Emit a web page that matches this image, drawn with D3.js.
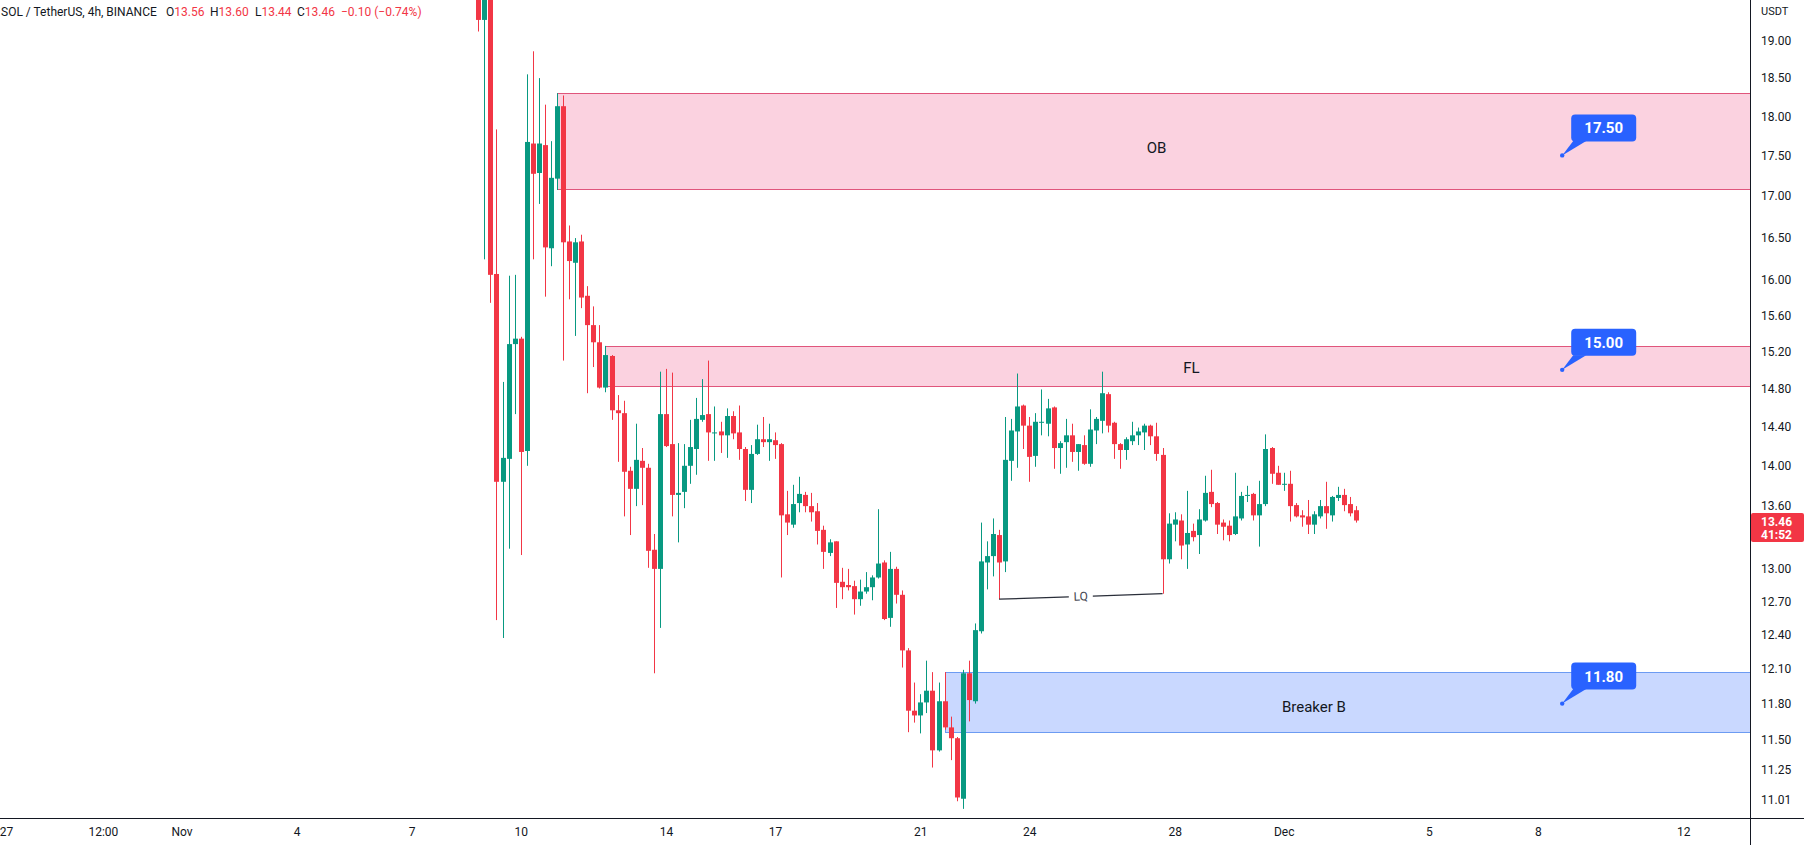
<!DOCTYPE html>
<html>
<head>
<meta charset="utf-8">
<script src="https://cdn.jsdelivr.net/npm/d3@7"></script>
<style>
  body { margin: 0; background: #ffffff; }
  svg { display: block; }
  text { font-family: "Trebuchet MS", Roboto, "Liberation Sans", sans-serif; }
</style>
</head>
<body>
<svg id="chart" width="1804" height="845"></svg>
<script>
// ---------------- DATA ----------------
const symbolTitle = "SOL / TetherUS, 4h, BINANCE";
const firstCandleTime = Date.UTC(2022, 10, 8, 20); // 4h candles
const opens = [20.40,19.29,19.90,16.07,13.84,14.07,15.28,15.34,14.15,17.65,17.28,17.63,16.37,17.21,18.13,16.45,16.20,16.45,15.82,15.49,
15.30,14.81,15.15,14.57,14.54,13.95,13.77,14.05,13.98,13.18,13.00,14.53,14.22,13.71,13.74,14.00,14.17,14.47,14.53,14.33,
14.35,14.31,14.51,14.34,14.17,13.76,14.12,14.27,14.24,14.26,14.22,13.52,13.42,13.63,13.71,13.60,13.55,13.37,13.15,13.26,
12.88,12.85,12.84,12.72,12.79,12.83,12.92,13.06,12.55,13.00,12.76,12.26,11.74,11.70,11.81,11.91,11.41,11.82,11.60,11.51,
11.02,12.06,11.82,12.43,13.06,13.12,13.32,13.07,14.05,14.35,14.62,14.41,14.10,14.44,14.43,14.60,14.18,14.24,14.31,14.14,
14.21,14.02,14.36,14.46,14.74,14.44,14.22,14.16,14.25,14.31,14.34,14.41,14.30,14.11,13.09,13.42,13.46,13.23,13.36,13.32,
13.46,13.74,13.63,13.44,13.41,13.33,13.48,13.70,13.72,13.51,13.62,14.18,13.93,13.81,13.82,13.61,13.51,13.50,13.42,13.50,
13.60,13.51,13.68,13.71,13.62,13.56];
const highs = [20.60,20.30,20.10,17.83,14.87,16.05,16.06,15.36,18.55,18.86,18.50,18.15,17.68,18.30,18.27,16.64,16.49,16.53,15.93,15.70,
15.49,15.26,15.16,14.73,14.67,13.99,14.43,14.18,14.02,13.33,14.98,15.01,14.97,14.23,14.22,14.47,14.70,14.90,15.10,14.61,
14.45,14.59,14.56,14.62,14.19,14.21,14.42,14.50,14.43,14.34,14.23,13.75,13.81,13.89,13.74,13.73,13.63,13.41,13.28,13.26,
13.01,13.00,12.89,12.90,12.97,12.94,13.57,13.08,13.16,13.02,12.80,12.28,11.98,11.88,12.17,12.07,11.98,12.07,11.69,11.52,
12.09,12.17,12.50,13.44,13.26,13.48,13.37,14.50,14.48,14.96,14.63,14.50,14.54,14.79,14.69,14.61,14.25,14.48,14.43,14.22,
14.31,14.58,14.50,14.98,14.76,14.45,14.23,14.29,14.45,14.39,14.43,14.42,14.44,14.18,13.53,13.54,13.52,13.75,13.43,13.57,
13.90,13.96,13.64,13.47,13.46,13.93,13.74,13.80,13.73,13.85,14.32,14.19,14.00,13.93,13.95,13.63,13.56,13.66,13.55,13.66,
13.84,13.70,13.79,13.77,13.69,13.60];
const lows = [19.13,16.24,15.74,12.53,12.37,13.19,14.53,13.13,14.00,16.24,16.90,15.81,16.16,17.07,15.10,15.78,15.37,15.68,14.75,15.03,
14.80,14.76,14.47,14.04,13.50,13.32,13.60,13.61,13.01,12.06,12.46,14.19,13.50,13.25,13.58,13.82,13.91,14.45,14.05,14.05,
14.13,14.08,14.27,14.06,13.65,13.63,14.11,14.19,14.05,14.07,12.92,13.32,13.39,13.54,13.54,13.45,13.23,13.00,13.12,12.64,
12.72,12.80,12.58,12.66,12.77,12.71,12.91,12.53,12.47,12.68,12.11,11.56,11.64,11.55,11.72,11.27,11.40,11.58,11.33,11.00,
10.94,11.65,11.80,12.41,12.81,12.93,12.72,12.97,13.85,13.98,14.17,13.84,13.99,14.31,14.30,13.97,13.92,13.98,14.04,13.95,
14.01,13.99,14.22,14.33,14.34,14.07,13.97,14.06,14.21,14.21,14.16,14.21,14.05,12.77,13.05,13.26,13.09,13.00,13.26,13.14,
13.45,13.59,13.33,13.27,13.26,13.32,13.46,13.64,13.46,13.21,13.60,13.82,13.81,13.75,13.45,13.49,13.40,13.33,13.33,13.48,
13.38,13.45,13.65,13.55,13.50,13.44];
const closes = [19.29,19.90,16.06,13.84,14.08,15.28,15.34,14.14,17.67,17.27,17.65,16.38,17.22,18.13,16.44,16.22,16.44,15.80,15.49,15.30,
14.81,15.16,14.57,14.54,13.94,13.77,14.06,13.98,13.17,13.00,14.53,14.20,13.71,13.73,14.00,14.19,14.48,14.52,14.34,14.34,
14.31,14.51,14.33,14.17,13.76,14.12,14.27,14.24,14.27,14.21,13.51,13.44,13.62,13.72,13.60,13.54,13.36,13.16,13.25,12.87,
12.83,12.83,12.72,12.79,12.83,12.92,13.05,12.54,13.00,12.76,12.26,11.74,11.70,11.81,11.91,11.41,11.82,11.60,11.51,11.03,
12.06,11.83,12.44,13.07,13.12,13.33,13.06,14.06,14.36,14.61,14.41,14.09,14.45,14.45,14.59,14.18,14.23,14.31,14.14,14.22,
14.02,14.37,14.48,14.75,14.41,14.22,14.16,14.27,14.31,14.35,14.41,14.30,14.12,13.09,13.43,13.47,13.22,13.34,13.30,13.47,
13.73,13.62,13.42,13.40,13.32,13.50,13.70,13.71,13.51,13.62,14.17,13.92,13.81,13.82,13.60,13.50,13.49,13.42,13.52,13.60,
13.53,13.69,13.71,13.61,13.53,13.46];

const priceTicks = [19.00,18.50,18.00,17.50,17.00,16.50,16.00,15.60,15.20,14.80,14.40,14.00,13.60,13.00,12.70,12.40,12.10,11.80,11.50,11.25,11.01];
const timeTicks = [Date.UTC(2022,9,26,20), Date.UTC(2022,9,29,12), Date.UTC(2022,9,31,16), Date.UTC(2022,10,3,20), Date.UTC(2022,10,7),
  Date.UTC(2022,10,10), Date.UTC(2022,10,14), Date.UTC(2022,10,17), Date.UTC(2022,10,21), Date.UTC(2022,10,24),
  Date.UTC(2022,10,28), Date.UTC(2022,11,1), Date.UTC(2022,11,5), Date.UTC(2022,11,8), Date.UTC(2022,11,12)];
const timeTickLabels = ["27","12:00","Nov","4","7","10","14","17","21","24","28","Dec","5","8","12"];

// zones
const zoneNames = ["OB", "FL", "Breaker B"];
const zoneStart = [13, 21, 77];            // candle index where each box starts
const zoneTop = [18.30, 15.26, 12.07];
const zoneBottom = [17.08, 14.83, 11.56];
const zoneLabelTime = [Date.UTC(2022,10,27,12), Date.UTC(2022,10,28,11), Date.UTC(2022,11,1,20)];
const zoneLabelPrice = [17.59, 15.02, 11.77];
const zoneKinds = ["bear", "bear", "bull"];

const calloutPrices = [17.50, 15.00, 11.80];
const calloutTime = Date.UTC(2022, 11, 8, 16);

const lqFrom = 86, lqTo = 113; // candle indices whose lows are joined
const lastTimer = "41:52";

// ---------------- CHART ----------------
const W = 1804, H = 845, plotR = 1750, plotB = 818;
const green = "#089981", red = "#F23645";
const svg = d3.select("#chart");
const times = opens.map((_, i) => new Date(firstCandleTime + i * 4 * 3600 * 1000));

const x = d3.scaleUtc()
  .domain([new Date(Date.UTC(2022,10,10)), new Date(Date.UTC(2022,11,8,16))])
  .range([520.7, 1562.2]);
const y = d3.scaleLog().domain([11.01, 19]).range([800, 41]);

svg.append("rect").attr("width", W).attr("height", H).attr("fill", "#fff");
svg.append("defs").append("clipPath").attr("id", "plotclip")
  .append("rect").attr("x", 0).attr("y", 0).attr("width", plotR).attr("height", plotB);

const plot = svg.append("g").attr("clip-path", "url(#plotclip)");

// zones
const zoneStyle = {
  bear: { fill: "rgba(233,30,99,0.2)", stroke: "#E0557C" },
  bull: { fill: "rgba(41,98,255,0.25)", stroke: "#6C9BF2" }
};
zoneNames.forEach((name, k) => {
  const x0 = Math.round(x(times[zoneStart[k]])) + 0.5;
  const y0 = Math.round(y(zoneTop[k])) + 0.5;
  const y1 = Math.round(y(zoneBottom[k])) + 0.5;
  const st = zoneStyle[zoneKinds[k]];
  plot.append("rect").attr("x", x0).attr("y", y0).attr("width", plotR + 5 - x0).attr("height", y1 - y0)
    .attr("fill", st.fill).attr("stroke", st.stroke).attr("stroke-width", 1);
  plot.append("text").attr("x", x(new Date(zoneLabelTime[k]))).attr("y", y(zoneLabelPrice[k]))
    .attr("text-anchor", "middle").attr("dominant-baseline", "central")
    .attr("font-size", 15).attr("fill", "#131722").text(name);
});

// candles
const idx = d3.range(opens.length);
const col = i => closes[i] >= opens[i] ? green : red;
plot.selectAll("line.wick").data(idx).join("line").attr("class", "wick")
  .attr("x1", i => Math.round(x(times[i])) + 0.5).attr("x2", i => Math.round(x(times[i])) + 0.5)
  .attr("y1", i => y(highs[i])).attr("y2", i => y(lows[i]))
  .attr("stroke", col).attr("stroke-width", 1);
plot.selectAll("rect.body").data(idx).join("rect").attr("class", "body")
  .attr("x", i => Math.round(x(times[i])) - 2).attr("width", 5)
  .attr("y", i => Math.min(y(opens[i]), y(closes[i])))
  .attr("height", i => Math.max(1, Math.abs(y(opens[i]) - y(closes[i]))))
  .attr("fill", col);

// LQ line
{
  const ax = x(times[lqFrom]), ay = y(lows[lqFrom]);
  const bx = x(times[lqTo]), by = y(lows[lqTo]);
  const mx = (ax + bx) / 2, my = (ay + by) / 2;
  const ang = Math.atan2(by - ay, bx - ax);
  const gap = 12;
  const dx = Math.cos(ang) * gap, dy = Math.sin(ang) * gap;
  plot.append("line").attr("x1", ax).attr("y1", ay).attr("x2", mx - dx).attr("y2", my - dy)
    .attr("stroke", "#2a2e39").attr("stroke-width", 1.2);
  plot.append("line").attr("x1", mx + dx).attr("y1", my + dy).attr("x2", bx).attr("y2", by)
    .attr("stroke", "#2a2e39").attr("stroke-width", 1.2);
  plot.append("text").attr("x", mx).attr("y", my)
    .attr("transform", `rotate(${ang * 180 / Math.PI},${mx},${my})`)
    .attr("text-anchor", "middle").attr("dominant-baseline", "central")
    .attr("font-size", 12).attr("fill", "#434651").text("LQ");
}

// callouts
calloutPrices.forEach(p => {
  const px = x(new Date(calloutTime)), py = y(p);
  const bx = px + 9, by = py - 41, bw = 65, bh = 27;
  const g = svg.append("g");
  g.append("path")
    .attr("d", `M${px},${py} L${px + 11},${by + bh - 0.5} L${px + 24},${by + bh - 0.5} Z`)
    .attr("fill", "#2962FF");
  g.append("rect").attr("x", bx).attr("y", by).attr("width", bw).attr("height", bh)
    .attr("rx", 4).attr("fill", "#2962FF");
  g.append("circle").attr("cx", px).attr("cy", py).attr("r", 2.2).attr("fill", "#2962FF");
  g.append("text").attr("x", bx + bw / 2).attr("y", by + bh / 2 + 0.5)
    .attr("text-anchor", "middle").attr("dominant-baseline", "central")
    .attr("font-size", 15).attr("font-weight", "bold").attr("fill", "#fff").text(p.toFixed(2));
});

// right price axis
const yAxis = d3.axisRight(y).tickValues(priceTicks).tickFormat(d => d.toFixed(2)).tickSize(0).tickPadding(11);
const ya = svg.append("g").attr("transform", `translate(${plotR},0)`).call(yAxis);
ya.select(".domain").remove();
ya.selectAll("text").attr("font-size", 12).attr("fill", "#131722")
  .style("font-family", '"Trebuchet MS", Roboto, "Liberation Sans", sans-serif');
svg.append("text").attr("x", 1761).attr("y", 11).attr("dominant-baseline", "central")
  .attr("font-size", 11).attr("fill", "#131722").text("USDT");

// last price label
{
  const lp = closes[closes.length - 1];
  const ly = y(lp);
  svg.append("rect").attr("x", plotR + 1).attr("y", ly - 7.5).attr("width", W - plotR - 1).attr("height", 29)
    .attr("rx", 2).attr("fill", red);
  svg.append("text").attr("x", 1761).attr("y", ly + 1).attr("dominant-baseline", "central")
    .attr("font-size", 12).attr("font-weight", "bold").attr("fill", "#fff").text(lp.toFixed(2));
  svg.append("text").attr("x", 1761).attr("y", ly + 14.5).attr("dominant-baseline", "central")
    .attr("font-size", 12).attr("font-weight", "bold").attr("fill", "#fff").text(lastTimer);
}

// bottom time axis
const xAxis = d3.axisBottom(x).tickValues(timeTicks.map(t => new Date(t)))
  .tickFormat((d, i) => timeTickLabels[i]).tickSize(0).tickPadding(9);
const xa = svg.append("g").attr("transform", `translate(0,${plotB})`).call(xAxis);
xa.select(".domain").remove();
xa.selectAll("text").attr("font-size", 12).attr("fill", "#131722")
  .style("font-family", '"Trebuchet MS", Roboto, "Liberation Sans", sans-serif');

// borders
svg.append("line").attr("x1", 0).attr("x2", W).attr("y1", plotB + 0.5).attr("y2", plotB + 0.5)
  .attr("stroke", "#131722").attr("stroke-width", 1);
svg.append("line").attr("x1", plotR + 0.5).attr("x2", plotR + 0.5).attr("y1", 0).attr("y2", H)
  .attr("stroke", "#131722").attr("stroke-width", 1);

// header legend
{
  const last = opens.length - 1;
  const hdr = svg.append("text").attr("x", 1).attr("y", 15.5).attr("font-size", 12).attr("fill", "#131722");
  hdr.append("tspan").text(symbolTitle);
  const parts = [["O", opens[last], 166], ["H", highs[last], 210], ["L", lows[last], 255], ["C", closes[last], 297]];
  parts.forEach(([k, v, px]) => {
    hdr.append("tspan").attr("x", px).attr("fill", "#131722").text(k);
    hdr.append("tspan").attr("fill", red).text(v.toFixed(2));
  });
  const chg = closes[last] - opens[last];
  const pct = chg / opens[last] * 100;
  hdr.append("tspan").attr("x", 341).attr("fill", red)
    .text(`${chg < 0 ? "\u2212" : "+"}${Math.abs(chg).toFixed(2)} (${pct < 0 ? "\u2212" : "+"}${Math.abs(pct).toFixed(2)}%)`);
}
</script>
</body>
</html>
